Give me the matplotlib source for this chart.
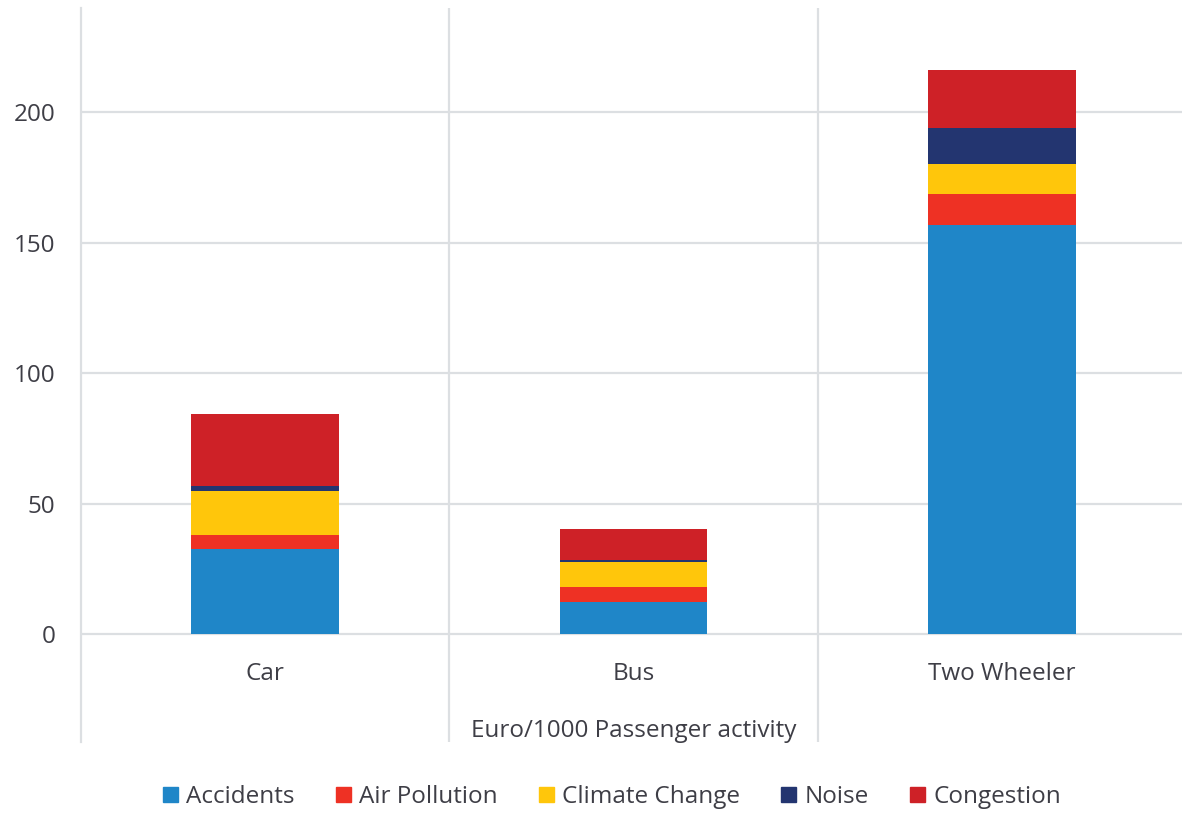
import numpy as np
import matplotlib.pyplot as plt
from matplotlib.patches import Patch
from matplotlib.transforms import blended_transform_factory

plt.rcParams['font.family'] = ['Open Sans', 'DejaVu Sans']

categories = ['Car', 'Bus', 'Two Wheeler']
accidents = [32.5, 12.1, 156.7]
air_pollution = [5.3, 6.0, 11.9]
climate_change = [17.1, 9.4, 11.5]
noise = [1.8, 0.9, 13.9]
congestion = [27.6, 11.8, 22.1]

series = [('Accidents', accidents, '#1f86c8'),
          ('Air Pollution', air_pollution, '#ee3124'),
          ('Climate Change', climate_change, '#ffc60b'),
          ('Noise', noise, '#233570'),
          ('Congestion', congestion, '#ce2127')]

txt = '#3e3e46'
grid = '#dcdfe2'
fs = 17.5

fig = plt.figure(figsize=(11.82, 8.14), dpi=100)
ax = fig.add_axes([81/1182, 1-742/814, 1105/1182, 734/814])

x = np.arange(len(categories))
bottom = np.zeros(len(categories))
for name, vals, col in series:
    ax.bar(x, vals, 0.4, bottom=bottom, color=col, label=name, zorder=3)
    bottom += np.array(vals)

ax.set_xlim(-0.5, len(categories) - 0.5)
ax.set_ylim(-41.4, 240)
ax.set_yticks([0, 50, 100, 150, 200])
ax.tick_params(axis='y', length=0, pad=18.5, labelsize=fs, labelcolor=txt)
ax.set_xticks([])
for v in [0, 50, 100, 150, 200]:
    ax.axhline(v, color=grid, lw=1.6, zorder=1)
for b in [0.5, 1.5]:
    ax.axvline(b, color=grid, lw=1.6, zorder=1)
for s in ['top', 'right', 'bottom']:
    ax.spines[s].set_visible(False)
ax.spines['left'].set_color(grid)
ax.spines['left'].set_linewidth(1.6)

tr = blended_transform_factory(ax.transData, ax.transData)
for i, c in enumerate(categories):
    ax.text(i, -15.5, c, ha='center', va='center', fontsize=fs, color=txt, transform=tr)
ax.text(1, -37.3, 'Euro/1000 Passenger activity', ha='center', va='center',
        fontsize=fs, color=txt)

handles = [Patch(color=col, label=name) for name, vals, col in series]
fig.legend(handles=handles, loc='center', bbox_to_anchor=(612/1182, 1-797/814),
           ncol=5, frameon=False, fontsize=fs, labelcolor=txt,
           handlelength=0.6, handleheight=0.6, handletextpad=0.35, columnspacing=1.7)

fig.savefig('out.png', dpi=100)
